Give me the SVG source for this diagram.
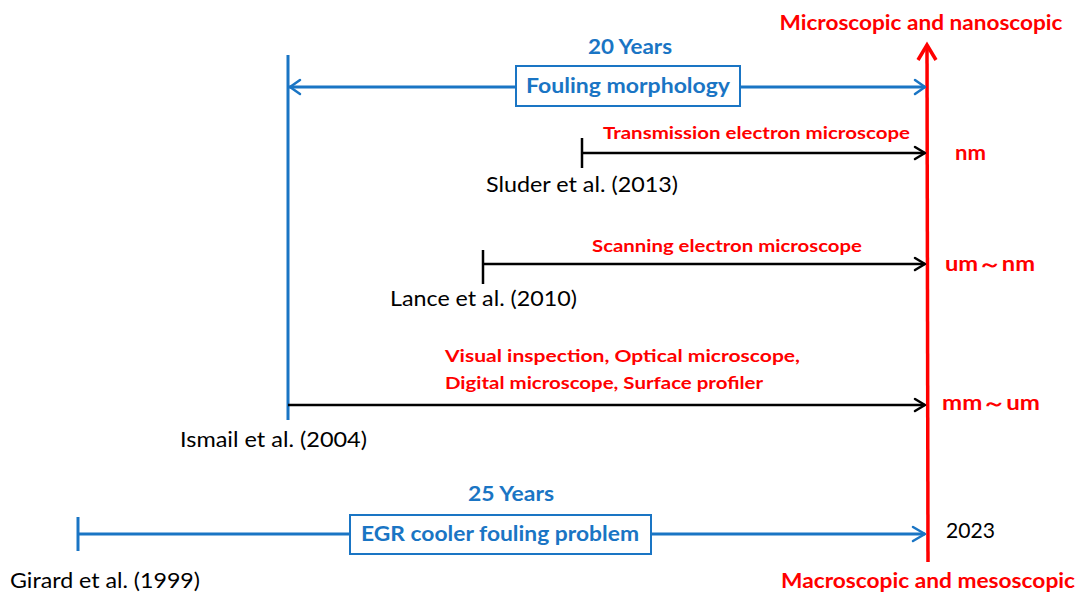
<svg xmlns="http://www.w3.org/2000/svg" width="1078" height="592" viewBox="0 0 1078 592">
<style>
.b{font-family:Lato,"Open Sans","Liberation Sans",sans-serif;font-weight:bold}
.r{font-family:Lato,"Open Sans","Liberation Sans",sans-serif}
.red{fill:#ff0000}
.blue{fill:#1a75c4}
.blk{fill:#000}
.lb{stroke:#1a75c4;stroke-width:3;fill:none}
.lk{stroke:#000;stroke-width:2.5;fill:none}
.ah{fill:none;stroke-width:2.5;stroke-linecap:round;stroke-linejoin:round}
</style>
<rect width="1078" height="592" fill="#fff"/>
<g id="connectors">
  <line x1="927" y1="47" x2="928" y2="562" stroke="#ff0000" stroke-width="3.5"/>
  <polyline points="918,60 927,45 936,60" fill="none" stroke="#ff0000" stroke-width="3.5" stroke-linejoin="miter"/>
  <line x1="288" y1="55" x2="288" y2="420" class="lb"/>
  <line x1="289" y1="87" x2="516" y2="87" class="lb" stroke-width="2.5"/>
  <line x1="740" y1="87" x2="925" y2="87" class="lb" stroke-width="2.5"/>
  <polyline points="300,80 290,87 300,94" class="ah" stroke="#1a75c4"/>
  <polyline points="915,80 925,87 915,94" class="ah" stroke="#1a75c4"/>
  <line x1="582" y1="138" x2="582" y2="168" class="lk"/>
  <line x1="582" y1="153" x2="925" y2="153" class="lk"/>
  <polyline points="915,147 925,153 915,159" class="ah" stroke="#000"/>
  <line x1="483" y1="250" x2="483" y2="284" class="lk"/>
  <line x1="483" y1="264" x2="925" y2="264" class="lk"/>
  <polyline points="915,258 925,264 915,270" class="ah" stroke="#000"/>
  <line x1="288" y1="405" x2="925" y2="405" class="lk"/>
  <polyline points="915,399 925,405 915,411" class="ah" stroke="#000"/>
  <line x1="78" y1="517" x2="78" y2="551" class="lb"/>
  <line x1="78" y1="534" x2="350" y2="534" class="lb" stroke-width="2.5"/>
  <line x1="651" y1="534" x2="925" y2="534" class="lb" stroke-width="2.5"/>
  <polyline points="913,527 925,534 913,541" class="ah" stroke="#1a75c4" stroke-width="3"/>
</g>
<g id="axis-labels">
  <text x="921" y="30" text-anchor="middle" font-size="20" class="b red" textLength="283" lengthAdjust="spacingAndGlyphs">Microscopic and nanoscopic</text>
  <text x="928" y="588" text-anchor="middle" font-size="20" class="b red" textLength="294" lengthAdjust="spacingAndGlyphs">Macroscopic and mesoscopic</text>
  <text x="955" y="160" font-size="21" class="b red" textLength="31" lengthAdjust="spacingAndGlyphs">nm</text>
  <text x="945" y="271" font-size="20" class="b red" textLength="90" lengthAdjust="spacingAndGlyphs">um～nm</text>
  <text x="942" y="410" font-size="20" class="b red" textLength="98" lengthAdjust="spacingAndGlyphs">mm～um</text>
  <text x="946" y="538" font-size="21" class="r blk" textLength="49" lengthAdjust="spacingAndGlyphs">2023</text>
</g>
<g id="fouling-morphology">
  <text x="630" y="54" text-anchor="middle" font-size="21" class="b blue" textLength="84" lengthAdjust="spacingAndGlyphs">20 Years</text>
  <rect x="516" y="66" width="224" height="40" fill="#fff" stroke="#1a75c4" stroke-width="2"/>
  <text x="628" y="93" text-anchor="middle" font-size="21.5" class="b blue" textLength="204" lengthAdjust="spacingAndGlyphs">Fouling morphology</text>
</g>
<g id="sluder">
  <text x="603" y="139" font-size="17.5" class="b red" textLength="307" lengthAdjust="spacingAndGlyphs">Transmission electron microscope</text>
  <text x="486" y="192" font-size="20.5" class="r blk" textLength="192" lengthAdjust="spacingAndGlyphs">Sluder et al. (2013)</text>
</g>
<g id="lance">
  <text x="592" y="252" font-size="17.5" class="b red" textLength="270" lengthAdjust="spacingAndGlyphs">Scanning electron microscope</text>
  <text x="390" y="306" font-size="20.5" class="r blk" textLength="187" lengthAdjust="spacingAndGlyphs">Lance et al. (2010)</text>
</g>
<g id="ismail">
  <text x="445" y="362" font-size="17.5" class="b red" textLength="355" lengthAdjust="spacingAndGlyphs">Visual inspection, Optical microscope,</text>
  <text x="445" y="389" font-size="17.5" class="b red" textLength="318" lengthAdjust="spacingAndGlyphs">Digital microscope, Surface profiler</text>
  <text x="180" y="447" font-size="20.5" class="r blk" textLength="187" lengthAdjust="spacingAndGlyphs">Ismail et al. (2004)</text>
</g>
<g id="egr">
  <text x="511" y="501" text-anchor="middle" font-size="21" class="b blue" textLength="86" lengthAdjust="spacingAndGlyphs">25 Years</text>
  <rect x="350" y="515" width="301" height="39" fill="#fff" stroke="#1a75c4" stroke-width="2"/>
  <text x="500" y="541" text-anchor="middle" font-size="21.5" class="b blue" textLength="278" lengthAdjust="spacingAndGlyphs">EGR cooler fouling problem</text>
  <text x="10" y="588" font-size="20.5" class="r blk" textLength="190" lengthAdjust="spacingAndGlyphs">Girard et al. (1999)</text>
</g>
</svg>
